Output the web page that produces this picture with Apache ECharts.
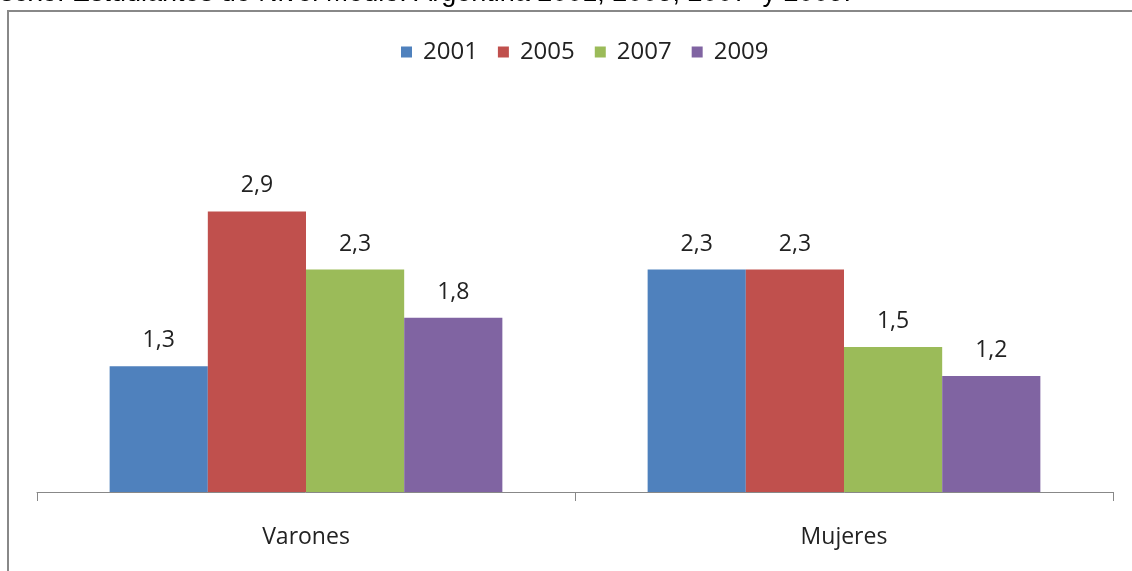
<!DOCTYPE html>
<html>
<head>
<meta charset="utf-8">
<script src="https://cdn.jsdelivr.net/npm/echarts@6/dist/echarts.min.js"></script>
<style>
  html, body { margin: 0; padding: 0; background: #fff; }
  #chart { width: 1132px; height: 571px; }
</style>
</head>
<body>
<div id="chart"></div>
<script>
// Data.
const categories = ['Varones', 'Mujeres'];
const years = ['2001', '2005', '2007', '2009'];
const v2001 = [1.3, 2.3];
const v2005 = [2.9, 2.3];
const v2007 = [2.3, 1.5];
const v2009 = [1.8, 1.2];
const colors = ['#4F81BD', '#C0504D', '#9BBB59', '#8064A2'];
const titleText = 'sexo. Estudiantes de Nivel Medio. Argentina 2001, 2005, 2007  y 2009.';

const font = '"Open Sans", "DejaVu Sans", sans-serif';
const fmt = (p) => String(p.value).replace('.', ',');

const chart = echarts.init(document.getElementById('chart'), null, { renderer: 'canvas' });
const seriesData = [v2001, v2005, v2007, v2009];

chart.setOption({
  animation: false,
  color: colors,
  graphic: [
    // cut-off caption line above the chart frame
    { type: 'text', left: 0, top: -20, style: { text: titleText, fontFamily: '"Liberation Sans", Arial, sans-serif', fontSize: 27, fill: '#000' } },
    // chart frame (left + top edges visible)
    { type: 'polyline', shape: { points: [[8, 571], [8, 11], [1132, 11]] }, style: { stroke: '#888', lineWidth: 2, fill: null } },
  ],
  legend: {
    top: 35, left: 396,
    itemWidth: 11, itemHeight: 11, itemGap: 20,
    icon: 'rect',
    textStyle: { fontFamily: font, fontSize: 24, color: '#222', padding: [0, 0, 0, 6] },
    data: years,
  },
  grid: { left: 37, right: 19, top: 105, bottom: 79, containLabel: false },
  xAxis: {
    type: 'category', data: categories,
    axisLine: { lineStyle: { color: '#888', width: 1 } },
    axisTick: { show: true, length: 9, lineStyle: { color: '#888' } },
    axisLabel: { fontFamily: font, fontSize: 23, color: '#222', margin: 34 },
  },
  yAxis: { type: 'value', min: 0, max: 4, show: false, splitLine: { show: false } },
  series: seriesData.map((d, i) => ({
    name: years[i], type: 'bar', data: d,
    barGap: '0%', barCategoryGap: '27%',
    label: { show: true, position: 'top', distance: 14, formatter: fmt, fontFamily: font, fontSize: 23, color: '#222' },
  })),
});
</script>
</body>
</html>
